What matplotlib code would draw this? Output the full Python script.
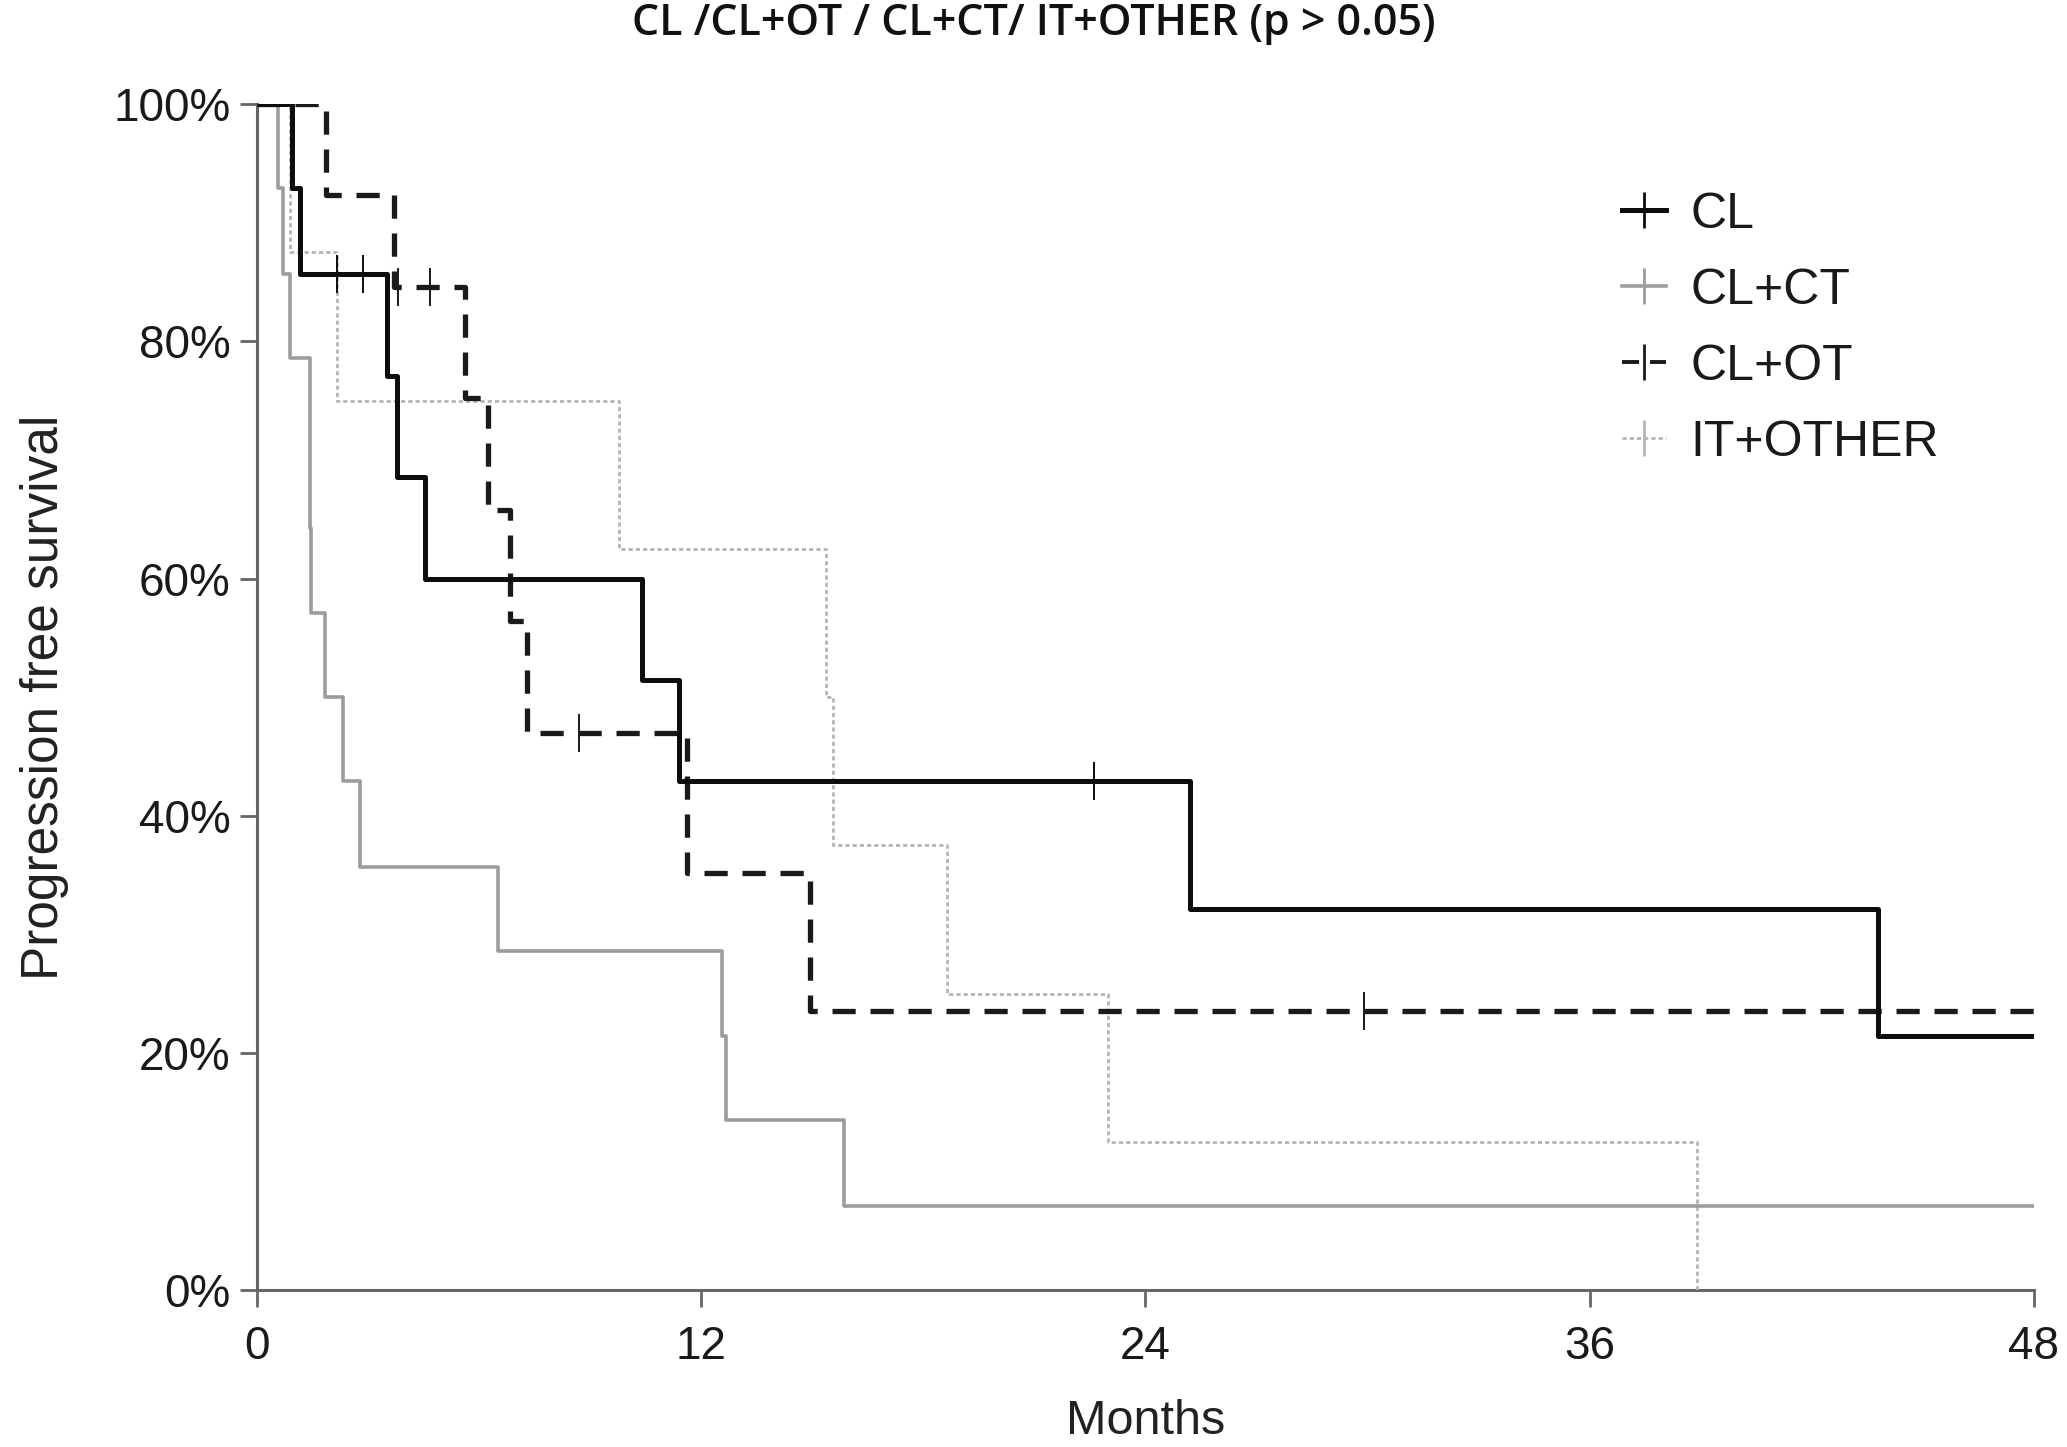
import matplotlib
matplotlib.use("Agg")
import matplotlib.pyplot as plt
from matplotlib.lines import Line2D

# ---- data (months, % progression free) ----
groups = ["CL", "CL+CT", "CL+OT", "IT+OTHER"]

cl_t = [0, 0.96, 1.16, 3.50, 3.78, 4.54, 10.40, 11.39, 25.2, 43.8]
cl_s = [100, 92.9, 85.7, 77.1, 68.6, 60.0, 51.4, 42.9, 32.1, 21.4]
cl_cens_t = [2.15, 2.87, 22.6]
cl_cens_s = [85.7, 85.7, 42.9]

clct_t = [0, 0.58, 0.71, 0.89, 1.43, 1.44, 1.46, 1.84, 2.33, 2.78, 6.52, 12.56, 12.68, 15.85]
clct_s = [100, 92.9, 85.7, 78.6, 71.4, 64.3, 57.1, 50.0, 42.9, 35.7, 28.6, 21.4, 14.3, 7.1]
clct_cens_t = []
clct_cens_s = []

clot_t = [0, 1.86, 3.70, 5.62, 6.25, 6.84, 7.29, 11.61, 14.95]
clot_s = [100, 92.3, 84.6, 75.2, 65.8, 56.4, 47.0, 35.2, 23.5]
clot_cens_t = [3.81, 4.68, 8.69, 29.9]
clot_cens_s = [84.6, 84.6, 47.0, 23.5]

it_t = [0, 0.89, 2.15, 9.79, 15.37, 15.56, 18.65, 23.0, 38.9]
it_s = [100, 87.5, 75.0, 62.5, 50.0, 37.5, 25.0, 12.5, 0.0]
it_cens_t = []
it_cens_s = []

x_ticks = [0, 12, 24, 36, 48]
y_ticks = [0, 20, 40, 60, 80, 100]
y_ticklabels = ["0%", "20%", "40%", "60%", "80%", "100%"]
x_max = 48

title = "CL /CL+OT / CL+CT/ IT+OTHER (p > 0.05)"
xlabel = "Months"
ylabel = "Progression free survival"

# ---- styles ----
styles = {
    "CL":       dict(color="#0d0d0d", lw=3.6, ls="-"),
    "CL+CT":    dict(color="#9c9c9c", lw=2.6, ls="-"),
    "CL+OT":    dict(color="#1a1a1a", lw=3.8, ls=(0, (4.4, 2.8))),
    "IT+OTHER": dict(color="#b4b4b4", lw=2.0, ls=(0, (1.5, 1.1))),
}
series = {
    "CL": (cl_t, cl_s, cl_cens_t, cl_cens_s),
    "CL+CT": (clct_t, clct_s, clct_cens_t, clct_cens_s),
    "CL+OT": (clot_t, clot_s, clot_cens_t, clot_cens_s),
    "IT+OTHER": (it_t, it_s, it_cens_t, it_cens_s),
}

plt.rcParams["font.family"] = ["Liberation Sans", "DejaVu Sans"]

fig = plt.figure(figsize=(20.67, 14.47), dpi=100)
ax = fig.add_axes([0.1243, 0.1085, 0.984 - 0.1243, 0.928 - 0.1085])

draw_order = ["IT+OTHER", "CL+CT", "CL+OT", "CL"]
for g in draw_order:
    t, s, ct, cs = series[g]
    st = styles[g]
    tt = list(t)
    ss = list(s)
    if g != "IT+OTHER":
        tt = tt + [x_max]
        ss = ss + [ss[-1]]
    ax.step(tt, ss, where="post", color=st["color"], lw=st["lw"],
            linestyle=st["ls"], solid_capstyle="butt", dash_capstyle="butt", zorder=3)
    if ct:
        ax.plot(ct, cs, linestyle="none", marker="|", markersize=28,
                markeredgewidth=1.4, color=st["color"], zorder=4)

ax.set_xlim(0, x_max)
ax.set_ylim(0, 100)
ax.set_xticks(x_ticks)
ax.set_xticklabels([str(v) for v in x_ticks])
ax.set_yticks(y_ticks)
ax.set_yticklabels(y_ticklabels)

for side in ["top", "right"]:
    ax.spines[side].set_visible(False)
for side in ["left", "bottom"]:
    ax.spines[side].set_color("#666666")
    ax.spines[side].set_linewidth(2.2)
ax.tick_params(axis="both", colors="#666666", width=2.0, length=12,
               labelsize=33, labelcolor="#1a1a1a")
ax.tick_params(axis="y", pad=7)
ax.tick_params(axis="x", pad=13)

ax.set_xlabel(xlabel, fontsize=35, color="#222222", labelpad=22)
ax.set_ylabel(ylabel, fontsize=37, color="#222222", labelpad=32)

fig.text(0.5, 0.9836, title, ha="center", va="center", fontsize=31,
         family=["Open Sans", "DejaVu Sans"], weight="semibold", color="#111111")

handles = []
for g in groups:
    st = styles[g]
    handles.append(Line2D([], [], color=st["color"], lw=st["lw"] if g != "CL+OT" else 2.8,
                          linestyle=st["ls"], marker="|", markersize=26,
                          markeredgewidth=2.0))
leg = ax.legend(handles, groups, loc="upper left", bbox_to_anchor=(0.768, 0.926),
                frameon=False, fontsize=36, handlelength=0.88, handletextpad=0.5,
                labelspacing=0.6, borderaxespad=0, borderpad=0)
for txt in leg.get_texts():
    txt.set_color("#1a1a1a")

fig.savefig("out.png", dpi=100, facecolor="white")
